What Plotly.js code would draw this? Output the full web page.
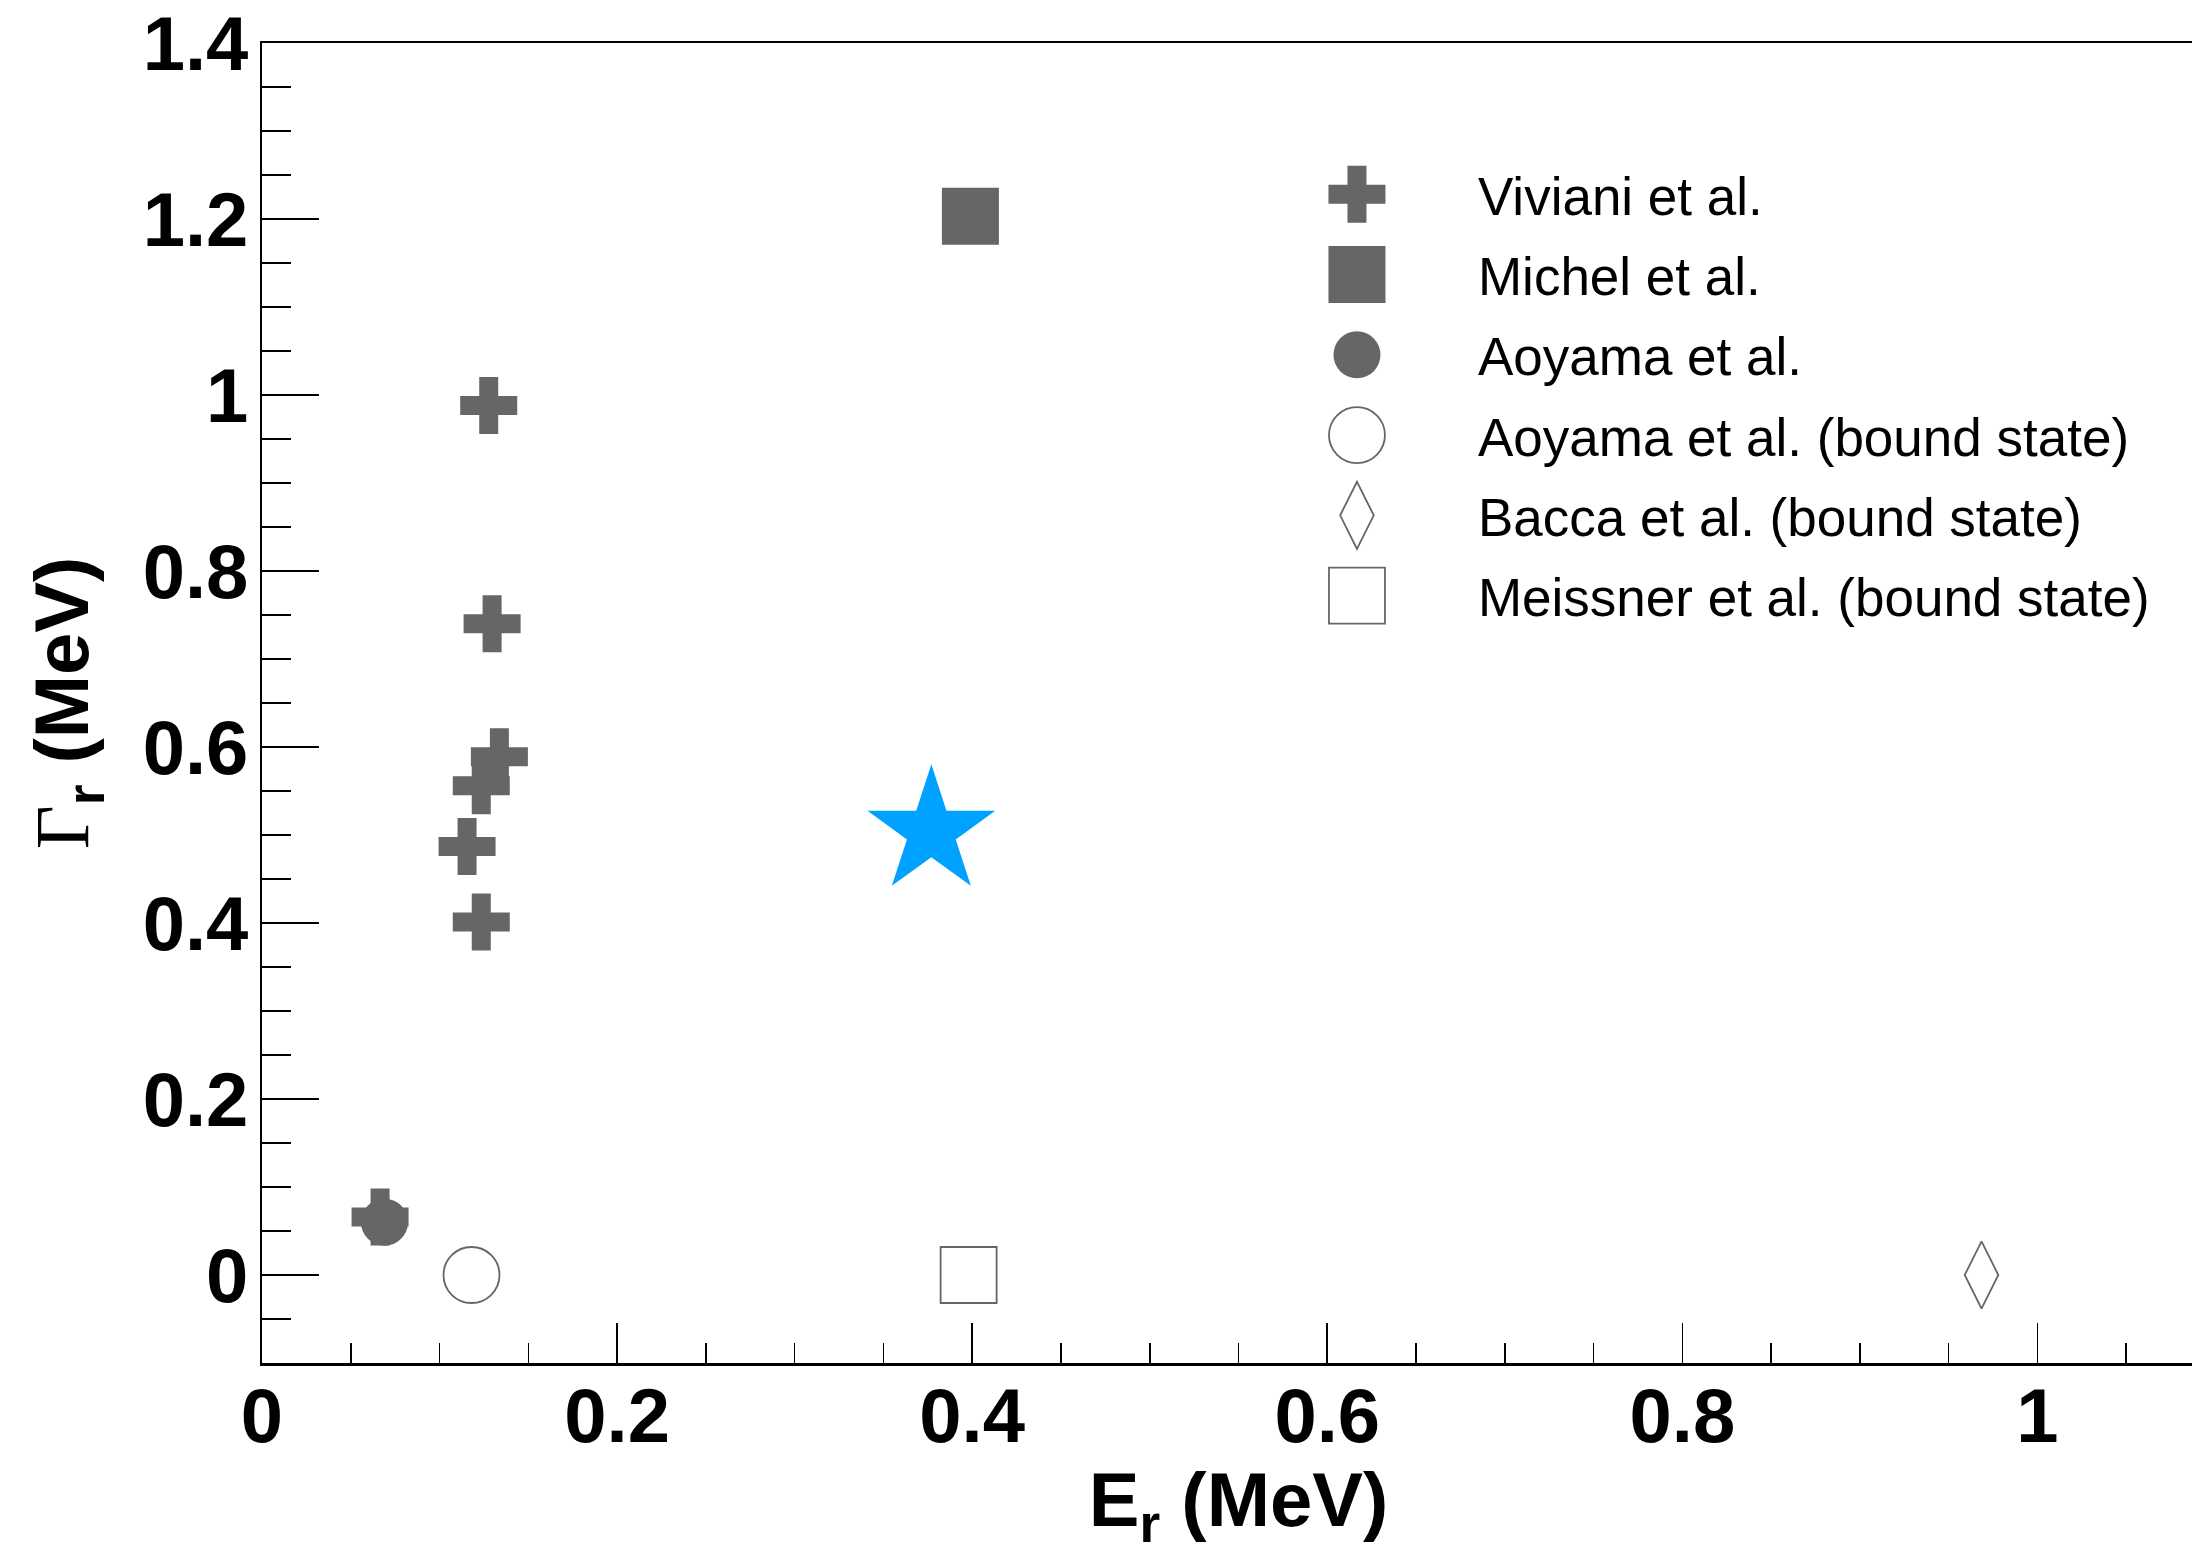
<!DOCTYPE html>
<html>
<head>
<meta charset="utf-8">
<script src="https://cdn.plot.ly/plotly-3.0.1.min.js"></script>
<style>
html, body { margin: 0; padding: 0; overflow: hidden; background: #ffffff; }
#chart { width: 2215px; height: 1545px; }
</style>
</head>
<body>
<div id="chart"></div>
<script>
// ---- data ----
const vivianiE = [0.1277, 0.1296, 0.1337, 0.1235, 0.1155, 0.1235, 0.0665];
const vivianiG = [0.988, 0.740, 0.589, 0.556, 0.487, 0.401, 0.066];
const michelE = [0.399];
const michelG = [1.203];
const aoyamaE = [0.069];
const aoyamaG = [0.060];
const aoyamaBoundE = [0.118];
const aoyamaBoundG = [0.0];
const baccaBoundE = [0.9685];
const baccaBoundG = [0.0];
const meissnerBoundE = [0.398];
const meissnerBoundG = [0.0];
const starE = [0.377];
const starG = [0.504];

const seriesNames = [
  'Viviani et al.',
  'Michel et al.',
  'Aoyama et al.',
  'Aoyama et al. (bound state)',
  'Bacca et al. (bound state)',
  'Meissner et al. (bound state)'
];

const xTickVals = [0, 0.2, 0.4, 0.6, 0.8, 1];
const yTickVals = [0, 0.2, 0.4, 0.6, 0.8, 1, 1.2, 1.4];

// ---- styles ----
const GRAY = '#666666';
const FONT = 'Liberation Sans, Arial, Helvetica, sans-serif';

function filled(x, y, name, symbol, size, group) {
  return {
    type: 'scatter', mode: 'markers', x: x, y: y, name: name,
    legendgroup: group,
    marker: { symbol: symbol, size: size, color: GRAY, line: { width: 0 } },
    hoverinfo: 'skip'
  };
}
function open(x, y, name, symbol, size, group) {
  return {
    type: 'scatter', mode: 'markers', x: x, y: y, name: name,
    legendgroup: group,
    marker: { symbol: symbol, size: size, color: GRAY, line: { width: 1.8, color: GRAY } },
    hoverinfo: 'skip'
  };
}

const data = [
  filled(vivianiE, vivianiG, seriesNames[0], 'cross', 47.5, 'g1'),
  filled(michelE, michelG, seriesNames[1], 'square', 57, 'g2'),
  filled(aoyamaE, aoyamaG, seriesNames[2], 'circle', 47, 'g3'),
  open(aoyamaBoundE, aoyamaBoundG, seriesNames[3], 'circle-open', 56, 'g4'),
  open(baccaBoundE, baccaBoundG, seriesNames[4], 'diamond-tall-open', 48, 'g5'),
  open(meissnerBoundE, meissnerBoundG, seriesNames[5], 'square-open', 56, 'g6'),
  {
    type: 'scatter', mode: 'markers', x: starE, y: starG, name: 'star',
    showlegend: false,
    marker: { symbol: 'star', size: 96, color: '#00a2ff', line: { width: 0 } },
    hoverinfo: 'skip'
  }
];

const layout = {
  width: 2215,
  height: 1545,
  margin: { l: 262, r: 0, t: 43, b: 182 },
  paper_bgcolor: '#ffffff',
  plot_bgcolor: '#ffffff',
  font: { family: FONT, color: '#000000' },
  showlegend: true,
  legend: {
    x: 0.4987, xanchor: 'left',
    y: 0.9165, yanchor: 'top',
    bgcolor: 'rgba(0,0,0,0)',
    borderwidth: 0,
    itemwidth: 232,
    traceorder: 'grouped',
    tracegroupgap: 8.4,
    font: { family: FONT, size: 53, color: '#000000' }
  },
  xaxis: {
    range: [0, 1.1],
    automargin: false,
    tickmode: 'array',
    tickvals: xTickVals,
    ticktext: xTickVals.map(v => String(v)),
    ticks: 'inside', ticklen: 40, tickwidth: 1.6, tickcolor: '#000',
    minor: { dtick: 0.05, tick0: 0, ticks: 'inside', ticklen: 20, tickwidth: 1.6, tickcolor: '#000', showgrid: false },
    showline: true, linewidth: 2.5, linecolor: '#000', mirror: true,
    showgrid: false, zeroline: false,
    tickfont: { family: FONT, size: 76, weight: 'bold', color: '#000' },
    ticklabelstandoff: -15,
    title: {
      text: 'E<sub>r</sub> (MeV)',
      font: { family: FONT, size: 76, weight: 'bold', color: '#000' }
    }
  },
  yaxis: {
    range: [-0.1, 1.4],
    automargin: false,
    tickmode: 'array',
    tickvals: yTickVals,
    ticktext: yTickVals.map(v => String(v)),
    ticks: 'inside', ticklen: 57, tickwidth: 1.6, tickcolor: '#000',
    minor: { dtick: 0.05, tick0: 0, ticks: 'inside', ticklen: 29, tickwidth: 1.6, tickcolor: '#000', showgrid: false },
    showline: true, linewidth: 2.5, linecolor: '#000', mirror: false,
    showgrid: false, zeroline: false,
    tickfont: { family: FONT, size: 76, weight: 'bold', color: '#000' },
    ticklabelstandoff: -4,
    title: {
      text: '<span style="font-family:Liberation Serif;font-weight:normal">Γ</span><sub>r</sub> (MeV)',
      font: { family: FONT, size: 76, weight: 'bold', color: '#000' },
      standoff: 29
    }
  }
};

const gd = document.getElementById('chart');
Plotly.newPlot(gd, data, layout, { staticPlot: true, responsive: false }).then(function () {
  // nudge the x-axis title down a little (reference spacing)
  const xt = gd.querySelector('.g-xtitle text');
  if (xt) {
    const t = xt.getAttribute('transform') || '';
    xt.setAttribute('transform', t + ' translate(0,8)');
  }
  // enlarge legend symbols to the size of the plotted markers
  gd.querySelectorAll('.legend .traces').forEach(function (tr) {
    const d = tr.__data__;
    if (!d || !d[0] || !d[0].trace) return;
    const trace = d[0].trace;
    const sz = trace.marker && trace.marker.size ? trace.marker.size : 16;
    const s = sz / Math.min(sz, 16);
    tr.querySelectorAll('path.scatterpts').forEach(function (p) {
      const t = p.getAttribute('transform') || '';
      p.setAttribute('transform', t + ' scale(' + s + ')');
      p.setAttribute('vector-effect', 'non-scaling-stroke');
    });
  });
});
</script>
</body>
</html>
